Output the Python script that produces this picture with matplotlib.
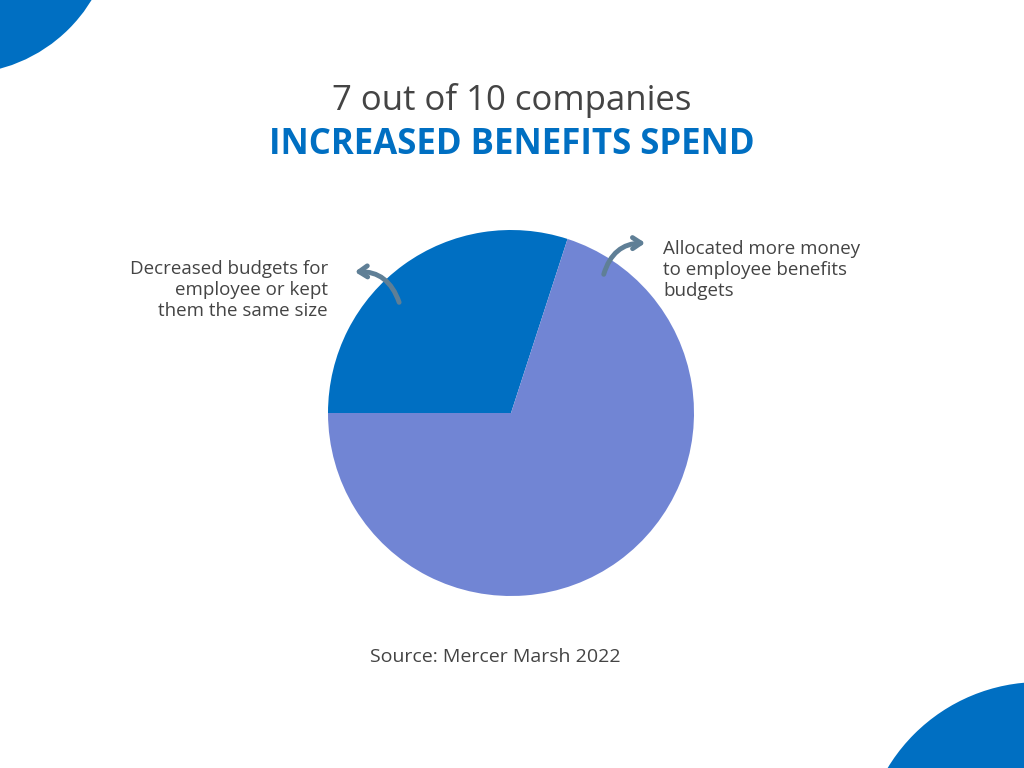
import matplotlib
matplotlib.use("Agg")
import matplotlib.pyplot as plt
from matplotlib.patches import Circle

plt.rcParams['font.family'] = ['Open Sans', 'DejaVu Sans']

# data
labels = ["Decreased budgets for\nemployee or kept\nthem the same size",
          "Allocated more money\nto employee benefits\nbudgets"]
shares = [30, 70]
colors = ['#006fc2', '#7185d4']

W, H = 1024, 768
fig = plt.figure(figsize=(W / 100, H / 100), dpi=100, facecolor='white')
ax = fig.add_axes([0, 0, 1, 1])
ax.set_xlim(0, W)
ax.set_ylim(0, H)
ax.set_aspect('equal')
ax.axis('off')

# corner decorations
ax.add_patch(Circle((-40, H + 80), 154, color='#006fc2', lw=0))
ax.add_patch(Circle((1040, H - 860), 178, color='#006fc2', lw=0))

ax.pie(shares, colors=colors, startangle=72, counterclock=True,
       center=(511, H - 413), radius=183, frame=True,
       wedgeprops=dict(linewidth=0))
ax.set_xlim(0, W)
ax.set_ylim(0, H)
ax.axis('off')

ax.text(512, H - 100, "7 out of 10 companies", ha='center', va='center',
        fontsize=25, color='#444444')
ax.text(512, H - 145, "INCREASED BENEFITS SPEND", ha='center', va='center',
        fontsize=25, color='#006fc2', fontweight='bold')

ax.text(328, H - 290, labels[0], ha='right', va='center', fontsize=13.5,
        color='#444444', linespacing=1.25)
ax.text(663, H - 270, labels[1], ha='left', va='center', fontsize=13.5,
        color='#444444', linespacing=1.25)

arrow_kw = dict(arrowstyle='->,head_length=0.6,head_width=0.4', color='#5f7f96', lw=3.5)
ax.annotate('', xy=(352, H - 272), xytext=(400, H - 305),
            arrowprops=dict(connectionstyle='arc3,rad=0.4', **arrow_kw))
ax.annotate('', xy=(648, H - 243), xytext=(603, H - 277),
            arrowprops=dict(connectionstyle='arc3,rad=-0.4', **arrow_kw))

ax.text(495, H - 657, "Source: Mercer Marsh 2022", ha='center', va='center',
        fontsize=14, color='#444444')

fig.savefig('out.png', dpi=100, facecolor='white')
